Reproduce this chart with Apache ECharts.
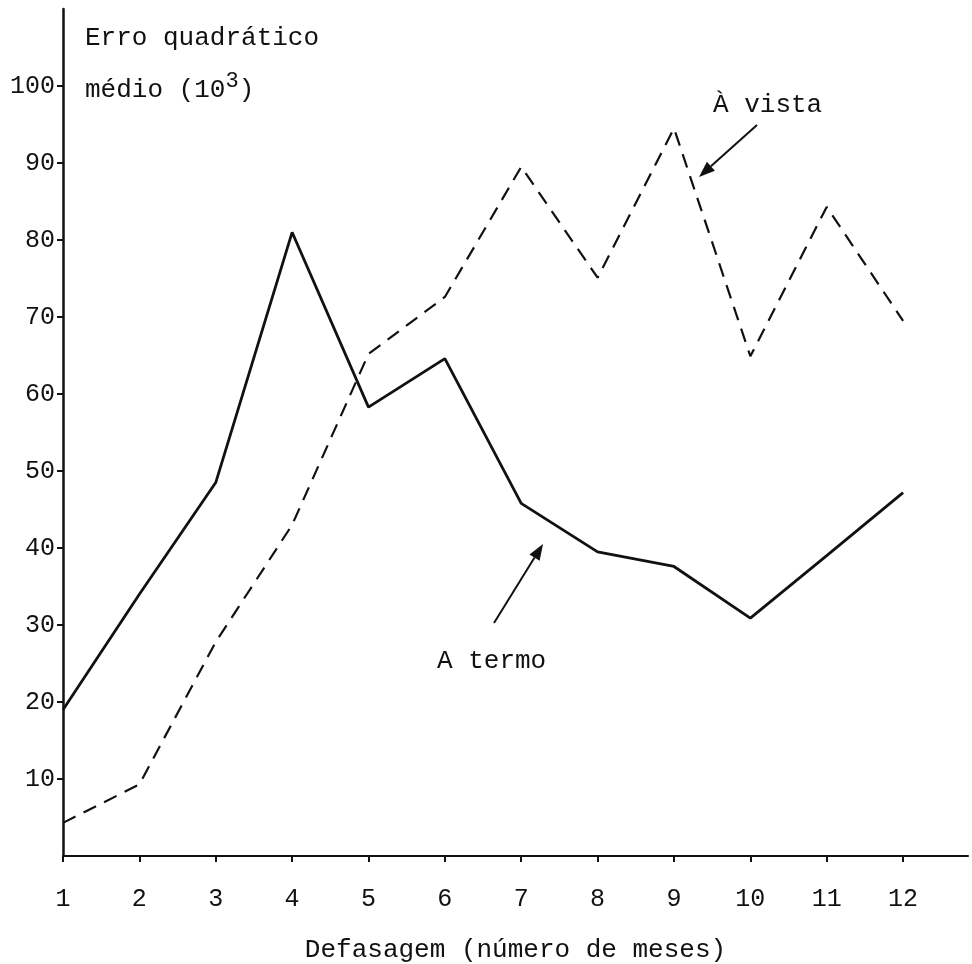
<!DOCTYPE html>
<html>
<head>
<meta charset="utf-8">
<script src="https://cdn.jsdelivr.net/npm/echarts@6/dist/echarts.min.js"></script>
<style>
html,body{margin:0;padding:0;background:#fff;}
#c{width:972px;height:964px;}
</style>
</head>
<body>
<div id="c"></div>
<script>
// Data
var lags = [1, 2, 3, 4, 5, 6, 7, 8, 9, 10, 11, 12];
var aTermo = [19, 34, 48.5, 81, 58.3, 64.6, 45.8, 39.5, 37.6, 30.9, 39, 47.2];
var aVista = [4.3, 9.3, 27.8, 43, 65.2, 72.6, 89.5, 75.1, 94.5, 64.9, 84.3, 69.5];
var yTicks = [10, 20, 30, 40, 50, 60, 70, 80, 90, 100];

var FONT = '"Liberation Mono", "DejaVu Sans Mono", monospace';
var INK = '#111';

function pairs(xs, ys) { return xs.map(function (x, i) { return [x, ys[i]]; }); }

function arrow(x1, y1, x2, y2) {
  var ang = Math.atan2(y2 - y1, x2 - x1);
  var L = 16, W = 6;
  var bx = x2 - L * Math.cos(ang), by = y2 - L * Math.sin(ang);
  var px = -Math.sin(ang) * W, py = Math.cos(ang) * W;
  return [
    { type: 'line', shape: { x1: x1, y1: y1, x2: bx, y2: by }, style: { stroke: INK, lineWidth: 2 } },
    { type: 'polygon', shape: { points: [[x2, y2], [bx + px, by + py], [bx - px, by - py]] }, style: { fill: INK } }
  ];
}

var chart = echarts.init(document.getElementById('c'), null, { renderer: 'canvas' });

var graphics = [
  { type: 'text', left: 85, top: 25, style: { text: 'Erro quadrático', font: '26px ' + FONT, fill: INK } },
  { type: 'text', left: 85, top: 70, style: {
      text: 'médio (10{sup|3})',
      font: '26px ' + FONT, fill: INK,
      rich: { sup: { font: '22px ' + FONT, fill: INK, verticalAlign: 'top', padding: [0, 0, 18, 0] } }
  } },
  { type: 'text', left: 713, top: 92, style: { text: 'À vista', font: '26px ' + FONT, fill: INK } },
  { type: 'text', left: 437, top: 648, style: { text: 'A termo', font: '26px ' + FONT, fill: INK } }
].concat(arrow(757, 125, 699, 177)).concat(arrow(494, 623, 543, 544));

var option = {
  backgroundColor: '#fff',
  animation: false,
  grid: { left: 63, right: 4, top: 9, bottom: 108, containLabel: false, outerBoundsMode: 'none' },
  xAxis: {
    type: 'value', min: 1, max: 12.85, interval: 1,
    name: 'Defasagem (número de meses)',
    nameLocation: 'middle', nameGap: 81,
    nameTextStyle: { fontFamily: FONT, fontSize: 26, color: INK },
    axisLine: { show: true, onZero: false, lineStyle: { color: INK, width: 2 } },
    axisTick: { show: true, length: 6, customValues: lags, lineStyle: { color: INK, width: 2 } },
    axisLabel: {
      show: true, margin: 31, customValues: lags,
      fontFamily: FONT, fontSize: 25, color: INK,
      formatter: function (v) { return String(Math.round(v)); }
    },
    splitLine: { show: false }
  },
  yAxis: {
    type: 'value', min: 0, max: 110, interval: 10,
    axisLine: { show: true, lineStyle: { color: INK, width: 2.5 } },
    axisTick: { show: true, length: 6, customValues: yTicks, lineStyle: { color: INK, width: 2 } },
    axisLabel: {
      show: true, margin: 8, customValues: yTicks,
      fontFamily: FONT, fontSize: 25, color: INK,
      formatter: function (v) { return String(v); }
    },
    splitLine: { show: false }
  },
  series: [
    {
      name: 'A termo', type: 'line', data: pairs(lags, aTermo),
      symbol: 'none', smooth: false,
      lineStyle: { color: INK, width: 2.8, type: 'solid' }
    },
    {
      name: 'À vista', type: 'line', data: pairs(lags, aVista),
      symbol: 'none', smooth: false,
      lineStyle: { color: INK, width: 2.2, type: [14, 9] }
    }
  ],
  graphic: graphics
};
chart.setOption(option);
</script>
</body>
</html>
